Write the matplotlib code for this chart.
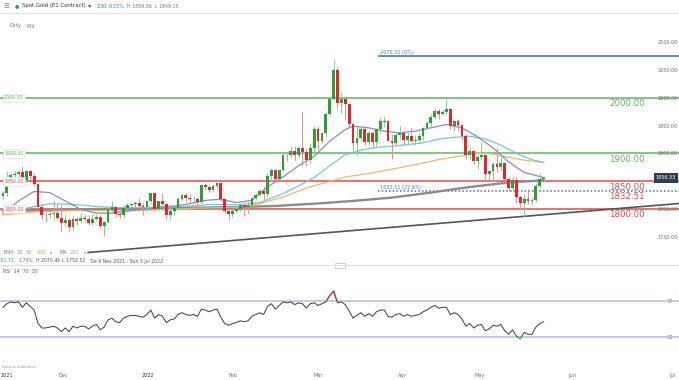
import numpy as np
import matplotlib.pyplot as plt
from matplotlib.patches import Rectangle

W, H = 679, 380

# daily candles, Tue 9 Nov 2021 -> 23 May 2022 (one per trading day)
opens = [1824, 1830, 1849, 1862, 1864, 1866, 1852, 1868, 1859, 1846, 1805, 1790, 1789, 1792, 1793, 1785,
         1775, 1781, 1768, 1783, 1779, 1785, 1783, 1775, 1783, 1787, 1770, 1777, 1799, 1804, 1791, 1789,
         1803, 1808, 1810, 1811, 1806, 1805, 1815,
         1829, 1801, 1814, 1810, 1789, 1797, 1802, 1819, 1826, 1821, 1818, 1819, 1813, 1843, 1840, 1835,
         1842, 1848, 1819, 1797, 1791,
         1797, 1801, 1807, 1805, 1808, 1821, 1826, 1833, 1827, 1859, 1870, 1855, 1871, 1898, 1897, 1905,
         1898, 1909, 1903, 1889,
         1909, 1943, 1922, 1936, 1970, 1998, 2050, 1991, 1998, 1988, 1953, 1918, 1928, 1943, 1921, 1936,
         1921, 1944, 1957, 1958, 1923, 1918, 1933,
         1937, 1925, 1932, 1923, 1925, 1931, 1945, 1954, 1966, 1977, 1971, 1975, 1979, 1950, 1958, 1951,
         1932, 1898, 1904, 1886, 1894,
         1897, 1863, 1868, 1881, 1876, 1883, 1855, 1838, 1852, 1822, 1811, 1818, 1815, 1816, 1841, 1853.52]
highs = [1833, 1868, 1865, 1868, 1870, 1877, 1871, 1870, 1865, 1848, 1810, 1795, 1797, 1815, 1809, 1808,
         1792, 1785, 1789, 1787, 1793, 1792, 1790, 1791, 1792, 1789, 1779, 1800, 1815, 1806, 1797, 1807,
         1812, 1812, 1815, 1820, 1811, 1817, 1830,
         1831, 1815, 1830, 1811, 1800, 1805, 1822, 1828, 1829, 1827, 1823, 1822, 1845, 1847, 1842, 1846,
         1851, 1853, 1820, 1799, 1800,
         1807, 1810, 1809, 1815, 1822, 1829, 1836, 1841, 1865, 1874, 1872, 1873, 1902, 1903, 1913, 1914,
         1913, 1974, 1909, 1918,
         1950, 1950, 1937, 1974, 2002, 2070, 2055, 2010, 2000, 1989, 1955, 1950, 1948, 1945, 1941, 1940,
         1946, 1966, 1966, 1960, 1935, 1939, 1950,
         1940, 1937, 1945, 1934, 1936, 1948, 1958, 1970, 1981, 1980, 1979, 1998, 1982, 1960, 1962, 1953,
         1935, 1912, 1906, 1897, 1920,
         1898, 1871, 1885, 1910, 1894, 1884, 1858, 1859, 1858, 1826, 1828, 1837, 1822, 1848, 1865, 1859.36]
lows = [1818, 1823, 1845, 1854, 1856, 1848, 1850, 1855, 1842, 1804, 1782, 1778, 1784, 1781, 1780, 1762,
        1770, 1762, 1763, 1772, 1776, 1779, 1771, 1771, 1780, 1769, 1752.52, 1776, 1795, 1786, 1785, 1785,
        1800, 1804, 1805, 1804, 1790, 1797, 1812,
        1799, 1798, 1808, 1782, 1783, 1790, 1800, 1817, 1813, 1811, 1813, 1805, 1812, 1834, 1831, 1831,
        1836, 1815, 1794, 1780, 1786,
        1795, 1797, 1788, 1791, 1806, 1816, 1824, 1816, 1822, 1850, 1850, 1850, 1869, 1886, 1893, 1888,
        1892, 1878, 1878, 1883,
        1900, 1907, 1918, 1929, 1967, 1995, 1981, 1973, 1961, 1947, 1906, 1895, 1924, 1916, 1915, 1910,
        1914, 1936, 1948, 1922, 1890, 1915, 1926,
        1916, 1916, 1920, 1915, 1920, 1924, 1943, 1950, 1961, 1962, 1969, 1970, 1943, 1940, 1940, 1925,
        1891, 1891, 1881, 1872, 1889,
        1850, 1850, 1851, 1866, 1868, 1848, 1832, 1834, 1812, 1798, 1787, 1810, 1807, 1813, 1838, 1849.15]
closes = [1830, 1849, 1862, 1864, 1866, 1852, 1868, 1859, 1846, 1805, 1790, 1789, 1792, 1793, 1785, 1775,
          1781, 1768, 1783, 1779, 1785, 1783, 1775, 1783, 1787, 1770, 1777, 1799, 1804, 1791, 1789, 1803,
          1808, 1810, 1811, 1806, 1805, 1815, 1829,
          1801, 1814, 1810, 1789, 1797, 1802, 1819, 1826, 1821, 1818, 1819, 1813, 1843, 1840, 1835, 1842,
          1848, 1819, 1797, 1791, 1797,
          1801, 1807, 1805, 1808, 1821, 1826, 1833, 1827, 1859, 1870, 1855, 1871, 1898, 1897, 1905, 1898,
          1909, 1903, 1889, 1909,
          1943, 1922, 1936, 1970, 1998, 2050, 1991, 1998, 1988, 1953, 1918, 1928, 1943, 1921, 1936, 1921,
          1944, 1958, 1958, 1923, 1918, 1933, 1937,
          1925, 1932, 1923, 1925, 1931, 1945, 1954, 1966, 1977, 1971, 1975, 1979, 1950, 1958, 1951, 1932,
          1898, 1904, 1886, 1894, 1897,
          1863, 1868, 1881, 1876, 1883, 1855, 1838, 1852, 1822, 1811, 1818, 1815, 1816, 1841, 1853.52, 1856.33]

# indicator lines: (candle index, value)
ema20_idx = [0, 4, 8, 12, 16, 20, 24, 28, 32, 36, 40, 44, 48, 52, 56, 60, 64, 68, 72, 76, 80, 84, 88, 90,
             94, 98, 102, 106, 110, 114, 118, 122, 126, 130, 134, 139]
ema20_val = [1792, 1815, 1832, 1830, 1815, 1800, 1793, 1793, 1797, 1800, 1804, 1806, 1810, 1816, 1818, 1812,
             1816, 1840, 1858, 1878, 1895, 1922, 1943, 1949, 1946, 1940, 1937, 1940, 1946, 1952, 1946, 1930,
             1910, 1885, 1866, 1857]
ema50_idx = [0, 6, 12, 18, 24, 30, 36, 42, 48, 54, 60, 66, 72, 76, 80, 84, 88, 92, 96, 100, 104, 108, 112,
             116, 120, 124, 128, 132, 136, 139]
ema50_val = [1793, 1802, 1810, 1809, 1805, 1803, 1803, 1804, 1806, 1809, 1808, 1812, 1828, 1842, 1857, 1878,
             1898, 1906, 1911, 1913, 1916, 1919, 1926, 1929, 1931, 1926, 1915, 1900, 1889, 1884]
ema100_idx = [0, 10, 20, 30, 40, 50, 60, 66, 72, 78, 84, 88, 94, 100, 106, 112, 118, 122, 126, 130, 134, 139]
ema100_val = [1790, 1796, 1798, 1797, 1799, 1802, 1804, 1810, 1822, 1838, 1850, 1858, 1864, 1872, 1880, 1889,
              1896, 1901, 1899, 1893, 1888, 1884]
ma200_idx = [0, 20, 40, 60, 70, 80, 90, 100, 110, 120, 130, 139]
ma200_val = [1797, 1800, 1802, 1804, 1806, 1810, 1815, 1821, 1830, 1840, 1848, 1852]

rsi = [63, 67, 69, 68, 69, 63, 68, 64, 60, 45, 40, 40, 41, 42, 40, 36,
       40, 36, 42, 40, 42, 42, 39, 42, 44, 38, 41, 49, 51, 47, 46, 51, 53, 54, 54, 53, 52, 55, 60,
       51, 55, 53, 46, 49, 50, 55, 57, 55, 54, 55, 53, 61, 60, 58, 60, 61, 52, 45, 43, 45,
       46, 48, 47, 48, 53, 55, 57, 55, 64, 67, 61, 65, 69, 68, 69, 66, 68, 67, 62, 67,
       68, 65, 67, 69, 76, 81, 68, 69, 66, 59, 51, 54, 57, 53, 56, 53, 58, 60, 60, 53, 52, 55, 56,
       53, 55, 53, 54, 55, 58, 60, 63, 65, 62, 63, 63, 55, 57, 55, 50, 42, 45, 40, 43, 44,
       37, 39, 43, 42, 44, 37, 33, 38, 31, 28, 35, 33, 33, 41, 45, 47]

support_res = [2000, 1900, 1850, 1800]
level_colors = ["#5cb85c", "#5cb85c", "#e8484e", "#e8484e"]
fib_levels = [2075.32, 1832.51]
fib_labels = ["2075.32 (0%)", "1832.51 (23.6%)"]
trend_idx = [21.9, 173.8]
trend_val = [1722.6, 1810.4]
last_price = 1856.33

month_pos = [1.0, 15.4, 37.3, 59.1, 81.0, 102.6, 122.6, 146.3, 172.0]
month_lab = ["2021", "Dec", "2022", "Feb", "Mar", "Apr", "May", "Jun", "Jul"]

GREEN, RED = "#2f9e35", "#e3262d"
GREEN_W, RED_W = "#82cf86", "#f28a8f"
GREY_TXT = "#707070"
BIG = 6.2

fig = plt.figure(figsize=(W / 100, H / 100), dpi=100)


def fx(x):
    return x / W


def fy(y):
    return 1 - y / H


ax = fig.add_axes([0, fy(265), 1, (265 - 33) / H])
rax = fig.add_axes([0, fy(355), 1, (355 - 265) / H], sharex=ax)
XMIN, XMAX = -0.77, 173.8
ax.set_xlim(XMIN, XMAX)
ax.set_ylim(1700.2, 2115.9)
rax.set_ylim(10, 110)

for a in (ax, rax):
    for s in a.spines.values():
        s.set_visible(False)

# horizontal levels
for lvl, col in zip(support_res, level_colors):
    ax.axhline(lvl, color=col, lw=1.1, zorder=1)
    ax.text(0.3, lvl, f"{lvl:.2f}", fontsize=3.4, color=col, va="center", ha="left", zorder=6,
            bbox=dict(boxstyle="square,pad=0.35", fc="white", ec="#d8d8d8", lw=0.4))
    ax.annotate(f"{lvl:.2f}", (155.8, lvl), xytext=(0, -0.8), textcoords="offset points",
                fontsize=BIG, color=col, va="top", ha="left", zorder=6)

ax.hlines(fib_levels[0], 96.4, XMAX, color="#4f86c6", lw=1.3, zorder=1)
ax.hlines(fib_levels[1], 96.4, XMAX, color="#3f74c4", lw=1.1, linestyle=(0, (1, 1.4)), zorder=1)
for lvl, lab in zip(fib_levels, fib_labels):
    ax.annotate(lab, (97.0, lvl), xytext=(0, 0.8), textcoords="offset points",
                fontsize=3.6, color="#4f86c6", va="bottom", ha="left")
ax.annotate(f"{fib_levels[1]:.2f}", (155.8, fib_levels[1]), xytext=(0, -0.8), textcoords="offset points",
            fontsize=BIG, color="#e8484e", va="top", ha="left", zorder=6)

# trend line and moving averages
ax.plot(trend_idx, trend_val, color="#555555", lw=1.2, zorder=2)
ax.plot(ma200_idx, ma200_val, color="#8c8c8c", lw=1.7, zorder=2)
ax.plot(ema100_idx, ema100_val, color="#e9b872", lw=0.9, zorder=2)
ax.plot(ema50_idx, ema50_val, color="#79c6d8", lw=0.9, zorder=2)
ax.plot(ema20_idx, ema20_val, color="#8e8ab9", lw=0.9, zorder=2)

# candles
idx = np.arange(len(closes))
o, h, l, c = map(np.array, (opens, highs, lows, closes))
up = c >= o
lo_body = np.minimum(o, c)
body = np.maximum(np.abs(c - o), 0.9)
ax.vlines(idx[up], l[up], h[up], color=GREEN_W, lw=0.7, zorder=3)
ax.vlines(idx[~up], l[~up], h[~up], color=RED_W, lw=0.7, zorder=3)
ax.bar(idx[up], body[up], bottom=lo_body[up], width=0.72, color=GREEN, lw=0, zorder=4)
ax.bar(idx[~up], body[~up], bottom=lo_body[~up], width=0.72, color=RED, lw=0, zorder=4)

# price axis inside the plot on the right
ax.yaxis.tick_right()
ax.set_yticks(range(1750, 2101, 50))
ax.set_yticklabels([f"{v:.2f}" for v in range(1750, 2101, 50)])
ax.tick_params(axis="y", length=0, pad=-15.5, labelsize=3.5, labelcolor=GREY_TXT)
ax.tick_params(axis="x", length=0, labelbottom=False)
ax.text(0.966, last_price, f"{last_price:.2f}", transform=ax.get_yaxis_transform(), fontsize=3.5,
        color="white", va="center", ha="left", zorder=7,
        bbox=dict(boxstyle="square,pad=0.45", fc="#2e3d52", ec="none"))

# RSI panel
rax.axhline(70, color="#b4c7db", lw=1.2)
rax.axhline(30, color="#b4c7db", lw=1.2)
rax.plot(idx, rsi, color="#3a3a3a", lw=0.7)
hot = rax.plot(idx, rsi, color=RED, lw=0.8)[0]
hot.set_clip_path(Rectangle((XMIN, 70), XMAX - XMIN, 50, transform=rax.transData))
cold = rax.plot(idx, rsi, color="#4cc25a", lw=0.8)[0]
cold.set_clip_path(Rectangle((XMIN, 0), XMAX - XMIN, 30, transform=rax.transData))
rax.yaxis.tick_right()
rax.set_yticks([70, 30])
rax.set_yticklabels(["70", "30"])
rax.tick_params(axis="y", length=0, pad=-9, labelsize=3.5, labelcolor=GREY_TXT)
for t in rax.get_yticklabels():
    t.set_bbox(dict(boxstyle="square,pad=0.2", fc="white", ec="none"))
rax.set_xticks(month_pos)
rax.set_xticklabels(month_lab)
rax.tick_params(axis="x", length=0, pad=13, labelsize=3.6, labelcolor=GREY_TXT)
for t in rax.get_xticklabels():
    if t.get_text() in ("2021", "2022"):
        t.set_color("#333333")

# chrome: header, separators, legends
fig.add_artist(plt.Line2D([0, 1], [fy(13), fy(13)], color="#e2e2e2", lw=0.8))
fig.add_artist(plt.Line2D([0, 1], [fy(265), fy(265)], color="#dddddd", lw=0.8))
fig.add_artist(Rectangle((fx(335), fy(267.5)), fx(10), 5 / H, fc="white", ec="#bbbbbb", lw=0.5))

fig.text(fx(4), fy(6), "☰", fontsize=4.5, color="#777777", va="center")
fig.text(fx(15), fy(6), "●", fontsize=3.5, color="#2f9e35", va="center")
fig.text(fx(22), fy(6), "Spot Gold (E1 Contract)", fontsize=3.9, color="#333333", va="center")
fig.text(fx(88), fy(6), "▾", fontsize=4.5, color="#555555", va="center")
fig.text(fx(97), fy(6), "2.81", fontsize=3.6, color="#3d7fd0", va="center")
fig.text(fx(109), fy(6), "0.15%", fontsize=3.6, color="#3d7fd0", va="center")
fig.text(fx(127), fy(6), "H 1859.36  L 1849.15", fontsize=3.4, color="#777777", va="center")
fig.text(fx(10), fy(26), "Daily", fontsize=3.4, color="#777777", va="center")
fig.text(fx(26), fy(26), "Mid", fontsize=3.4, color="#777777", va="center")

legend_parts = [(4, "EMA", "#777777"), (17, "20", "#8e8ab9"), (26, "50", "#4fb3d4"), (36, "100", "#eda23a"),
                (48, "✕", "#999999"), (59, "MA", "#777777"), (70, "200", "#aaaaaa"), (82, "✕", "#999999")]
for x, s, col in legend_parts:
    fig.text(fx(x), fy(252.5), s, fontsize=3.5, color=col, va="center")

stats_parts = [(0, "-51.71", "#3d7fd0"), (18, "1.74%", "#3d7fd0"), (36, "H 2070.45", "#555555"),
               (62, "L 1752.52", "#555555"), (89, "Tue 9 Nov 2021 - Sun 3 Jul 2022", "#555555")]
for x, s, col in stats_parts:
    fig.text(fx(x), fy(261), s, fontsize=3.3, color=col, va="center")

fig.text(fx(3), fy(271.5), "RSI  14  70  30", fontsize=3.4, color="#666666", va="center")
fig.text(fx(2), fy(367), "Data is indicative", fontsize=2.8, color="#999999", va="center")

fig.savefig("out.png", dpi=100)
